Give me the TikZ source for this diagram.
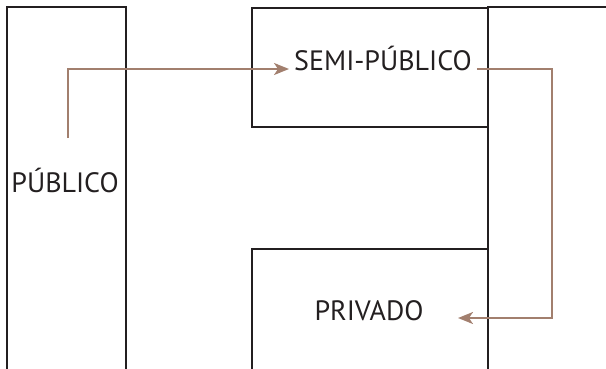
\documentclass[tikz,border=0pt]{standalone}
\usepackage{fontspec}
\setmainfont{PT Sans}
\usetikzlibrary{arrows.meta}
\definecolor{ink}{HTML}{231F20}
\definecolor{flow}{HTML}{A27F6E}
\tikzset{
  wall/.style={draw=ink, line width=2.4pt},
  label/.style={text=ink, font=\fontsize{28}{31}\selectfont, inner sep=5pt},
  flowline/.style={draw=flow, line width=2.1pt,
    -{Stealth[length=15pt,width=12pt,inset=4pt]}}
}
\begin{document}
\begin{tikzpicture}[x=1pt,y=-1pt]
\useasboundingbox (0,0) rectangle (606,368);
\clip (0,0) rectangle (606,368);
% zone outlines
\draw[wall] (7,380) -- (7,7) -- (126,7) -- (126,380);
\draw[wall] (252,8) rectangle (488,127);
\draw[wall] (488,380) -- (488,7) -- (620,7);
\draw[wall] (252,380) -- (252,249) -- (488,249);
% labels
\node[label, anchor=base] (pub) at (65,192) {PÚBLICO};
\node[label, anchor=base] (semi) at (383,70) {SEMI-PÚBLICO};
\node[label, anchor=base] (priv) at (369,320) {PRIVADO};
% flow between zones
\coordinate (start) at (68,138);
\coordinate (semiin) at ([yshift=1pt]semi.base west);
\coordinate (semiout) at ([yshift=1pt]semi.base east);
\coordinate (privtip) at (458,318);
\draw[flowline] (start) |- (semiin);
\draw[flowline] (semiout) -- (552,69) |- (privtip);
\end{tikzpicture}
\end{document}
